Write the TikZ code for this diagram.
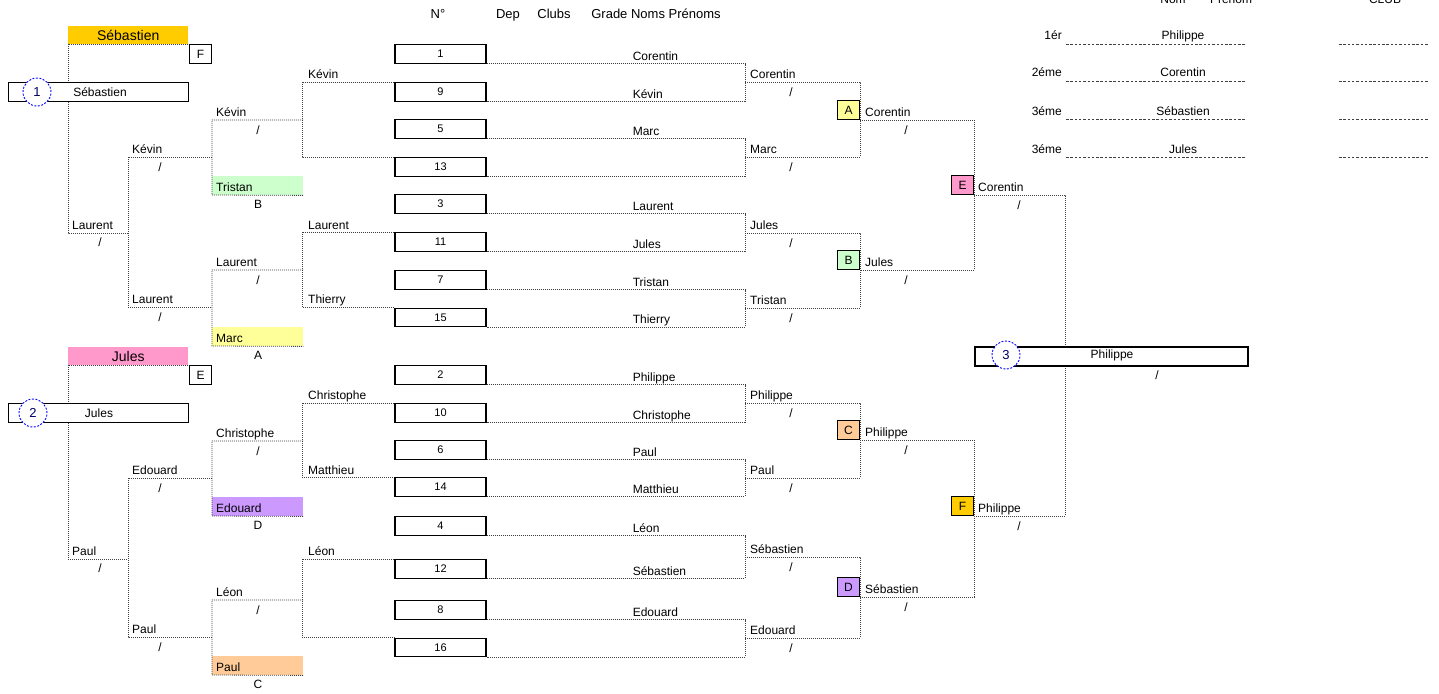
\documentclass[tikz,border=0pt]{standalone}
\usepackage{fontspec}
\setmainfont{Liberation Sans}
\usetikzlibrary{calc}
\definecolor{cgold}{HTML}{FFCC00}
\definecolor{cpink}{HTML}{FF99CC}
\definecolor{cyel}{HTML}{FFFF99}
\definecolor{cgrn}{HTML}{CCFFCC}
\definecolor{corg}{HTML}{FFCC99}
\definecolor{cpur}{HTML}{CC99FF}
\begin{document}
\begin{tikzpicture}[x=1pt,y=-1pt,
 dl/.style={draw=black!75, line width=0.8pt, dash pattern=on 1pt off 1pt},
 dsh/.style={draw=black!75, line width=0.8pt, dash pattern=on 2.5pt off 1.8pt},
 tx/.style={font=\fontsize{12}{14}\selectfont, inner sep=0pt},
 nm/.style={tx, anchor=base west},
 sl/.style={tx, anchor=center},
 hd/.style={font=\fontsize{13}{15}\selectfont, inner sep=0pt, anchor=base},
 numbox/.style={draw, line width=1.1pt, fill=white, minimum width=91pt, minimum height=18.5pt, inner sep=0pt, font=\fontsize{11}{13}\selectfont},
 lbox/.style={draw, line width=1pt, minimum width=22pt, minimum height=19pt, inner sep=0pt, font=\fontsize{12}{14}\selectfont},
 pbox/.style={minimum width=91pt, minimum height=19pt, inner sep=0pt, anchor=north west},
 hbox/.style={minimum width=120pt, minimum height=18pt, inner sep=0pt, anchor=north west, font=\fontsize{14}{16}\selectfont},
 circ/.style={circle, draw=blue, dash pattern=on 2pt off 1.5pt, line width=0.9pt, fill=white, minimum size=28pt, inner sep=0pt, text=blue!40!black, font=\fontsize{13}{15}\selectfont},
]
\useasboundingbox (0,0) rectangle (1439,693);
\clip (0,0) rectangle (1439,693);

% ---------- coloured fills (left) ----------
\node[hbox, fill=cgold] (hS) at (68,26) {Sébastien};
\node[hbox, fill=cpink] (hJ) at (68,347) {Jules};
\node[pbox, fill=cgrn] (gT) at (212,176) {};
\node[pbox, fill=cyel] (gM) at (212,327) {};
\node[pbox, fill=cpur] (gE) at (212,497) {};
\node[pbox, fill=corg] (gP) at (212,656) {};

% ---------- number boxes ----------
\foreach \n/\c in {1/54,9/92,5/129,13/167,3/204,11/242,7/280,15/317.5,2/375,10/413,6/450,14/487,4/526,12/569,8/610,16/647.5}
  \node[numbox] (b\n) at (440.5,\c) {\n};

% ---------- left tree ----------
\draw[dl] (hS.south east) -- (hS.south west) -- (68,233) -- (128,233);
\draw[dl] (212,157) -- (128,157) -- (128,307) -- (212,307);
\draw[dl] (303,120) -- (212,120) -- (212,195) -- (gT.south east);
\draw[dl] (303,270) -- (212,270) -- (212,346) -- (gM.south east);
\draw[dl] (hJ.south east) -- (hJ.south west) -- (68,559) -- (128,559);
\draw[dl] (212,478) -- (128,478) -- (128,637) -- (212,637);
\draw[dl] (303,441) -- (212,441) -- (212,516) -- (gE.south east);
\draw[dl] (303,600) -- (212,600) -- (212,675) -- (gP.south east);
\foreach \a/\b in {9/13,11/15,10/14,12/16}
  \draw[dl] (b\a.north west) -- ++(-92,0) |- (b\b.north west);

% ---------- right brackets ----------
\foreach \a/\b/\m in {1/9/82,5/13/157,3/11/233,7/15/308,2/10/403,6/14/478,4/12/557,8/16/638}
  \draw[dl] (b\a.south east) -| (745,\m) |- (b\b.south east);
\draw[dl] (745,82) -- (860,82) -- (860,157) -- (745,157);
\draw[dl] (745,233) -- (860,233) -- (860,308) -- (745,308);
\draw[dl] (745,403) -- (860,403) -- (860,478) -- (745,478);
\draw[dl] (745,557) -- (860,557) -- (860,638) -- (745,638);
\draw[dl] (860,120) -- (974,120) -- (974,270) -- (860,270);
\draw[dl] (860,440) -- (974,440) -- (974,597) -- (860,597);
\draw[dl] (974,195) -- (1065,195) -- (1065,516) -- (974,516);

% ---------- white boxes ----------
\node[draw, line width=0.9pt, fill=white, minimum width=180pt, minimum height=19pt, anchor=north west] (p1) at (8,82) {};
\node[draw, line width=0.9pt, fill=white, minimum width=180pt, minimum height=19pt, anchor=north west] (p2) at (8,403) {};
\node[draw, line width=2pt, fill=white, minimum width=273pt, minimum height=19pt, anchor=north west] (p3) at (974,346) {};
\node[lbox, fill=white, anchor=north west] (sF) at (189,44) {F};
\node[lbox, fill=white, anchor=north west] (sE) at (189,365) {E};
\node[circ] (c1) at (37,92) {1};
\node[circ] (c2) at (33,413) {2};
\node[circ] (c3) at (1006,355) {3};
\node[tx] (t1) at (100,92.5) {Sébastien};
\node[tx] (t2) at (99,413.5) {Jules};
\node[tx] (t3) at (1112,355.5) {Philippe};

% letter boxes
\node[lbox, fill=cyel, anchor=south east] (A) at (860,120) {A};
\node[lbox, fill=cgrn, anchor=south east] (B) at (860,270) {B};
\node[lbox, fill=corg, anchor=south east] (C) at (860,440) {C};
\node[lbox, fill=cpur, anchor=south east] (D) at (860,597) {D};
\node[lbox, fill=cpink, anchor=south east] (E) at (974,195) {E};
\node[lbox, fill=cgold, anchor=south east] (F) at (974,516) {F};

% ---------- header ----------
\node[hd] (hN) at (438,19) {N°};
\node[hd] (hDep) at (508,19) {Dep};
\node[hd] (hClubs) at (554,19) {Clubs};
\node[hd] (hGr) at (656,19) {Grade Noms Prénoms};
\node[tx, anchor=base] (hNom) at (1173,3.5) {Nom};
\node[tx, anchor=base] (hPre) at (1231,3.5) {Prénom};
\node[tx, anchor=base] (hClub) at (1385,3.5) {CLUB};

% ---------- names at number boxes ----------
\foreach \n/\s in {1/Corentin,9/Kévin,5/Marc,3/Laurent,11/Jules,7/Tristan,15/Thierry,2/Philippe,10/Christophe,6/Paul,14/Matthieu,4/Léon,12/Sébastien,8/Edouard}
  \node[nm] (n\n) at ($(b\n.south east)+(146,-3.5)$) {\s};

% ---------- round winners ----------
\foreach \y/\s in {82/Corentin,157/Marc,233/Jules,308/Tristan,403/Philippe,478/Paul,557/Sébastien,638/Edouard}{
  \node[nm] (w\y) at (750,\y-4) {\s};
  \node[sl] (s\y) at (791,\y+10) {/};
}
\foreach \y/\s in {120/Corentin,270/Jules,440/Philippe,597/Sébastien}{
  \node[nm] (v\y) at (865,\y-4) {\s};
  \node[sl] (r\y) at (906,\y+10) {/};
}
\foreach \y/\s in {195/Corentin,516/Philippe}{
  \node[nm] (u\y) at (978,\y-4) {\s};
  \node[sl] (q\y) at (1019,\y+10) {/};
}
\node[sl] (qf) at (1157,375) {/};

% ---------- left labels ----------
\foreach \y/\s in {233/Laurent,559/Paul}{
  \node[nm] (la\y) at (72,\y-4) {\s};
  \node[sl] (lsa\y) at (100,\y+9) {/};
}
\foreach \y/\s in {157/Kévin,307/Laurent,478/Edouard,637/Paul}{
  \node[nm] (lb\y) at (132,\y-4) {\s};
  \node[sl] (lsb\y) at (160,\y+10) {/};
}
\foreach \y/\s in {120/Kévin,270/Laurent,441/Christophe,600/Léon}{
  \node[nm] (lc\y) at (216,\y-4) {\s};
  \node[sl] (lsc\y) at (258,\y+10) {/};
}
\foreach \y/\s in {82/Kévin,233/Laurent,307/Thierry,403/Christophe,478/Matthieu,559/Léon}
  \node[nm] (ld\y) at (308,\y-4) {\s};
\foreach \y/\s/\l in {195/Tristan/B,346/Marc/A,516/Edouard/D,675/Paul/C}{
  \node[nm] (lp\y) at (216,\y-4) {\s};
  \node[sl] (ll\y) at (258,\y+9) {\l};
}

% ---------- ranking ----------
\foreach \y/\r/\s in {44/1ér/Philippe,81/2éme/Corentin,119/3éme/Sébastien,157/3éme/Jules}{
  \node[tx, anchor=base east] (rk\y) at (1062,\y-4) {\r};
  \node[tx, anchor=base] (rn\y) at (1183,\y-4) {\s};
  \draw[dsh] (1066,\y) -- (1246,\y);
  \draw[dsh] (1339,\y) -- (1429,\y);
}
\end{tikzpicture}
\end{document}
